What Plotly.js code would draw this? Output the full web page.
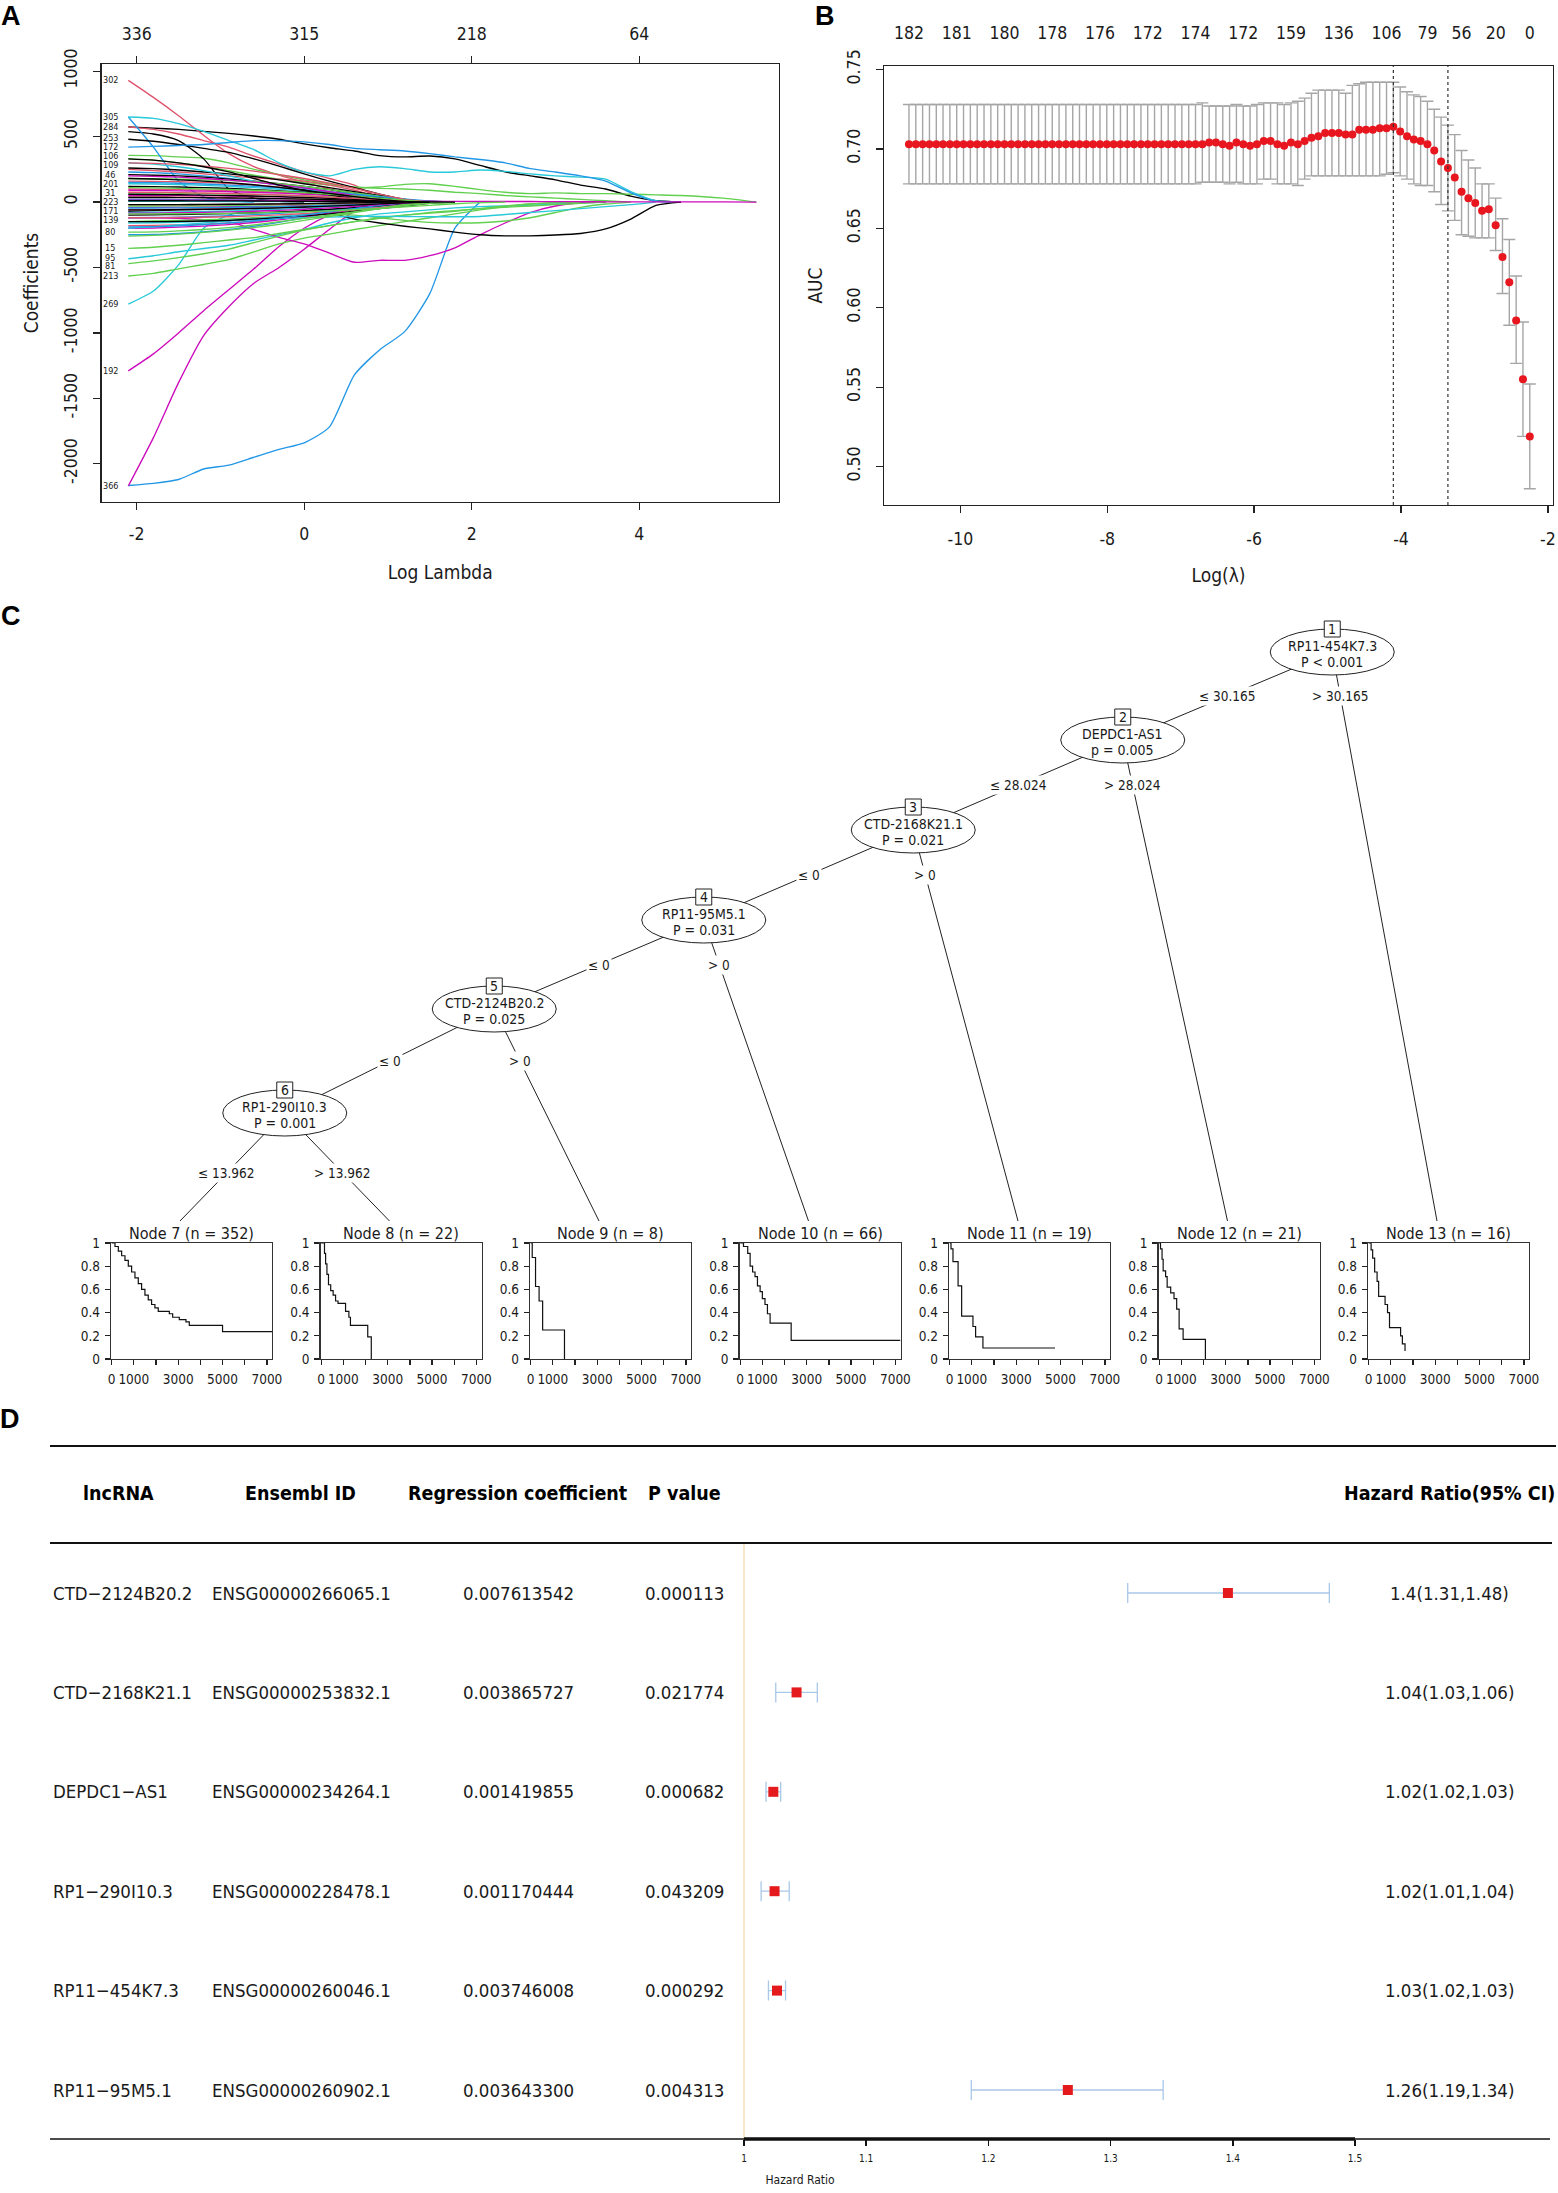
<!DOCTYPE html>
<html><head><meta charset="utf-8">
<script src="https://cdn.plot.ly/plotly-3.0.1.min.js"></script>
<style>html,body{margin:0;padding:0;background:#fff}#fig{width:1558px;height:2193px}</style>
</head><body><div id="fig"></div>
<script>
// ---------------- DATA ----------------
// Panel A: glmnet coefficient paths (log lambda grid)
const logLambdaGrid = [-2.1,-1.8,-1.5,-1.2,-0.9,-0.6,-0.3,0,0.3,0.6,0.9,1.2,1.5,1.8,2.1,2.4,2.7,3.0,3.3,3.6,3.9,4.2,4.5,5.0,5.4];
const pathsBlack = [
  [575,565,555,540,525,505,480,445,415,390,355,345,352,330,280,230,200,170,130,100,45,10,0],
  [538,520,470,330,100,30,5,0],
  [480,465,440,410,380,330,275,215,160,110,60,20,0],
  [-70,-65,-60,-55,-50,-45,-42,-40,-80,-130,-160,-185,-205,-230,-250,-258,-258,-252,-240,-205,-130,-25,0],
  [260,255,245,230,215,195,170,140,110,80,50,20,0],
  [210,205,200,190,175,160,140,120,95,70,40,15,0],
  [120,118,115,110,105,95,85,75,60,45,30,15,5,0],
  [-100,-98,-95,-92,-88,-82,-75,-66,-55,-42,-28,-12,0],
  [-150,-150,-148,-145,-140,-130,-120,-105,-90,-70,-50,-30,-10,0],
  [10,10,10,9,9,8,7,6,5,4,3,2,1,0],
  [330,320,300,270,230,180,130,90,55,25,0],
  [60,58,56,53,50,46,41,35,28,20,12,5,0],
  [-20,-20,-19,-18,-17,-16,-14,-12,-9,-6,-3,0],
  [180,176,170,160,148,132,112,90,66,42,20,5,0],
  [-60,-60,-58,-56,-53,-49,-44,-38,-31,-23,-14,-6,0],
  [35,35,34,33,31,29,26,22,18,13,8,3,0]
];
const pathsRed = [
  [930,800,660,510,370,270,205,150,100,50,10,0],
  [575,555,520,470,420,350,290,230,180,130,30,0],
  [250,240,230,215,200,185,175,160,130,90,40,10,0],
  [100,98,95,92,88,82,75,66,55,40,25,10,0],
  [160,158,155,150,142,130,115,95,70,45,20,0],
  [-60,-58,-55,-52,-48,-44,-38,-30,-20,-10,0],
  [-180,-178,-175,-170,-160,-145,-125,-100,-70,-40,-15,0],
  [40,40,38,36,33,30,26,22,17,12,6,0],
  [-120,-120,-118,-116,-112,-106,-98,-88,-75,-60,-42,-22,0],
  [300,296,288,275,258,236,210,180,145,105,60,20,0],
  [-20,-20,-19,-19,-18,-17,-15,-13,-10,-7,-4,-1,0],
  [75,74,72,69,65,60,54,47,38,28,17,7,0]
];
const pathsGreen = [
  [357,355,345,335,300,250,210,170,140,110,115,135,140,120,95,75,65,70,65,65,60,55,50,30,0],
  [330,320,300,275,240,205,175,150,130,115,105,100,90,75,65,50,40,30,20,10,0],
  [-565,-545,-510,-477,-440,-380,-320,-275,-245,-210,-180,-150,-120,-90,-60,-35,-15,-5,0],
  [-470,-450,-425,-395,-360,-310,-260,-214,-180,-150,-120,-100,-80,-65,-50,-40,-30,-20,-10,0],
  [-354,-345,-330,-310,-290,-272,-240,-210,-180,-150,-125,-100,-85,-70,-50,-30,-15,-5,0],
  [-150,-145,-140,-135,-130,-120,-110,-100,-95,-100,-120,-140,-155,-160,-158,-145,-120,-80,-40,-15,0],
  [180,178,175,170,165,155,140,120,95,70,45,20,0],
  [70,69,67,65,62,58,53,47,40,32,23,14,6,0],
  [-230,-228,-220,-210,-195,-175,-150,-125,-100,-75,-50,-28,-10,0],
  [-30,-30,-29,-28,-26,-24,-21,-18,-14,-10,-6,-2,0],
  [-90,-90,-89,-88,-86,-83,-79,-74,-67,-58,-48,-37,-25,-13,-4,0],
  [-260,-255,-245,-232,-215,-195,-170,-140,-110,-80,-50,-20,0],
  [110,108,105,101,96,90,82,72,60,46,30,14,0]
];
const pathsBlue = [
  [-2166,-2150,-2120,-2040,-2010,-1950,-1890,-1840,-1720,-1320,-1130,-990,-700,-200,0],
  [650,420,160,40,10,0],
  [420,425,432,440,455,470,470,460,440,410,400,390,370,345,325,300,255,230,200,160,70,5,0],
  [230,225,215,200,180,155,130,105,80,55,30,10,0],
  [-250,-248,-240,-228,-210,-185,-155,-120,-85,-55,-25,0],
  [20,20,19,18,17,15,13,11,8,5,2,0],
  [-120,-118,-115,-110,-104,-96,-86,-74,-60,-45,-30,-15,0],
  [150,148,144,138,130,120,108,94,78,60,42,24,8,0],
  [-190,-188,-182,-172,-160,-145,-125,-100,-75,-50,-25,-8,0],
  [-45,-45,-44,-43,-41,-38,-35,-31,-26,-20,-13,-6,0]
];
const pathsCyan = [
  [-780,-680,-480,-200,-100,-60,-40,-20,-10,0],
  [650,640,600,540,470,400,300,230,200,250,270,255,230,230,245,235,215,200,190,175,80,10,0],
  [-433,-410,-380,-355,-330,-290,-250,-210,-160,-120,-90,-75,-60,-45,-35,-30,-25,-15,-5,0],
  [140,138,134,128,120,110,98,84,68,50,32,15,0],
  [-80,-78,-76,-72,-68,-62,-55,-46,-36,-25,-14,-5,0],
  [300,290,270,240,200,160,130,110,80,50,25,5,0],
  [-160,-158,-154,-148,-140,-128,-112,-94,-74,-52,-30,-10,0],
  [-200,-190,-175,-160,-145,-135,-125,-120,-115,-110,-110,-110,-112,-112,-110,-95,-80,-65,-50,-35,-20,0],
  [5,5,5,5,4,4,4,3,3,2,1,0]
];
const pathsMagenta = [
  [-2170,-1800,-1380,-1020,-800,-620,-500,-360,-210,-70,-20,0],
  [-1290,-1160,-1000,-830,-670,-510,-340,-200,-100,-40,-10,0],
  [-120,-120,-125,-135,-150,-210,-270,-320,-390,-460,-445,-445,-410,-350,-250,-160,-80,-30,-5,0],
  [90,88,86,83,79,74,68,60,50,38,25,12,0],
  [-40,-40,-39,-38,-36,-34,-31,-27,-22,-16,-9,-3,0],
  [-200,-198,-192,-184,-172,-156,-136,-112,-85,-58,-32,-10,0],
  [50,50,49,48,46,43,40,36,31,25,18,10,3,0],
  [200,196,190,180,168,152,132,108,80,50,22,5,0],
  [15,15,15,14,14,13,12,11,10,9,8,7,6,5,5,4,4,3,3,2,2,1,1,1,0],
  [-85,-84,-82,-79,-75,-70,-63,-55,-45,-33,-20,-8,0]
];
const coefLabelText = ['302','305','284','253','172','106','109','46','201','31','223','171','139','80','15','95','81','213','269','192','366'];
const coefLabelY = [930,650,575,490,420,350,280,210,140,70,0,-70,-140,-230,-350,-425,-492,-565,-780,-1290,-2168];
const aBottomTickVals = [-2,0,2,4];
const aBottomTickText = ['-2','0','2','4'];
const aTopTickText = ['336','315','218','64'];
const aYTickVals = [-2000,-1500,-1000,-500,0,500,1000];
const aYTickText = ['-2000','-1500','-1000','-500','0','500','1000'];

// Panel B: cross-validated AUC
const aucLogLambda = [-10.700,-10.607,-10.514,-10.421,-10.328,-10.236,-10.143,-10.050,-9.957,-9.864,-9.771,-9.678,-9.585,-9.492,-9.399,-9.307,-9.214,-9.121,-9.028,-8.935,-8.842,-8.749,-8.656,-8.563,-8.470,-8.378,-8.285,-8.192,-8.099,-8.006,-7.913,-7.820,-7.727,-7.634,-7.541,-7.449,-7.356,-7.263,-7.170,-7.077,-6.984,-6.891,-6.798,-6.705,-6.612,-6.520,-6.427,-6.334,-6.241,-6.148,-6.055,-5.962,-5.869,-5.776,-5.683,-5.591,-5.498,-5.405,-5.312,-5.219,-5.126,-5.033,-4.940,-4.847,-4.754,-4.662,-4.569,-4.476,-4.383,-4.290,-4.197,-4.104,-4.011,-3.918,-3.825,-3.733,-3.640,-3.547,-3.454,-3.361,-3.268,-3.175,-3.082,-2.989,-2.896,-2.804,-2.711,-2.618,-2.525,-2.432,-2.339,-2.246];
const aucMean = [0.703,0.703,0.703,0.703,0.703,0.703,0.703,0.703,0.703,0.703,0.703,0.703,0.703,0.703,0.703,0.703,0.703,0.703,0.703,0.703,0.703,0.703,0.703,0.703,0.703,0.703,0.703,0.703,0.703,0.703,0.703,0.703,0.703,0.703,0.703,0.703,0.703,0.703,0.703,0.703,0.703,0.703,0.703,
  0.703,0.704,0.704,0.703,0.702,0.704,0.703,0.702,0.703,0.705,0.705,0.703,0.702,0.704,0.703,0.705,0.707,0.708,0.710,0.710,0.710,0.709,0.709,0.712,0.712,0.712,0.713,0.713,0.714,0.711,0.708,0.706,0.705,0.703,0.699,0.692,0.688,0.682,0.673,0.669,0.666,0.661,0.662,0.652,0.632,0.616,0.592,0.555,0.519];
const aucUpper = [0.728,0.728,0.728,0.728,0.728,0.728,0.728,0.728,0.728,0.728,0.728,0.728,0.728,0.728,0.728,0.728,0.728,0.728,0.728,0.728,0.728,0.728,0.728,0.728,0.728,0.728,0.728,0.728,0.728,0.728,0.728,0.728,0.728,0.728,0.728,0.728,0.728,0.728,0.728,0.728,0.728,0.728,0.728,
  0.729,0.727,0.727,0.727,0.727,0.728,0.727,0.727,0.728,0.729,0.729,0.729,0.728,0.729,0.730,0.732,0.735,0.737,0.737,0.737,0.737,0.735,0.740,0.741,0.742,0.742,0.742,0.742,0.742,0.739,0.736,0.734,0.733,0.730,0.725,0.720,0.715,0.709,0.699,0.693,0.688,0.678,0.678,0.669,0.656,0.643,0.620,0.591,0.552];
const aucLower = [0.678,0.678,0.678,0.678,0.678,0.678,0.678,0.678,0.678,0.678,0.678,0.678,0.678,0.678,0.678,0.678,0.678,0.678,0.678,0.678,0.678,0.678,0.678,0.678,0.678,0.678,0.678,0.678,0.678,0.678,0.678,0.678,0.678,0.678,0.678,0.678,0.678,0.678,0.678,0.678,0.678,0.678,0.678,
  0.679,0.679,0.679,0.679,0.678,0.679,0.678,0.678,0.678,0.681,0.681,0.678,0.678,0.678,0.677,0.681,0.683,0.683,0.683,0.683,0.683,0.683,0.683,0.683,0.683,0.683,0.683,0.684,0.685,0.683,0.681,0.678,0.677,0.677,0.673,0.665,0.661,0.655,0.646,0.645,0.644,0.644,0.644,0.636,0.609,0.589,0.565,0.519,0.486];
const bTopTickIndex = [0,7,14,21,28,35,42,49,56,63,70,76,81,86,91];
const bTopTickText = ['182','181','180','178','176','172','174','172','159','136','106','79','56','20','0'];
const lambdaMinIndex = 71, lambda1seIndex = 79;
const bXTickVals = [-10,-8,-6,-4,-2];
const bXTickText = ['-10','-8','-6','-4','-2'];
const bYTickVals = [0.50,0.55,0.60,0.65,0.70,0.75];
const bYTickText = ['0.50','0.55','0.60','0.65','0.70','0.75'];

// Panel C: survival tree
const treeInnerIds = [1,2,3,4,5,6];
const treeVariable = ['RP11-454K7.3','DEPDC1-AS1','CTD-2168K21.1','RP11-95M5.1','CTD-2124B20.2','RP1-290I10.3'];
const treePText = ['P < 0.001','p = 0.005','P = 0.021','P = 0.031','P = 0.025','P = 0.001'];
const treeSplit = ['30.165','28.024','0','0','0','13.962'];
const treeLeftKid = [2,3,4,5,6,7];
const treeRightKid = [13,12,11,10,9,8];
const leafIds = [7,8,9,10,11,12,13];
const leafN = [352,22,8,66,19,21,16];
const kmNode7Time = [0,150,300,450,600,750,900,1050,1200,1350,1500,1650,1800,1950,2100,2600,2750,3050,3350,3500,5000,7230];
const kmNode7Surv = [1,0.97,0.93,0.89,0.85,0.80,0.75,0.70,0.65,0.60,0.55,0.51,0.47,0.44,0.41,0.39,0.36,0.34,0.32,0.29,0.236,0.236];
const kmNode8Time = [0,150,200,260,330,430,540,650,760,1100,1250,1320,2100,2260];
const kmNode8Surv = [1,0.91,0.82,0.73,0.64,0.59,0.55,0.50,0.48,0.41,0.36,0.29,0.19,0];
const kmNode9Time = [0,70,220,380,540,1525];
const kmNode9Surv = [1,0.875,0.625,0.5,0.25,0];
const kmNode10Time = [0,150,340,450,560,670,780,900,1000,1120,1230,1350,2300,7230];
const kmNode10Surv = [1,0.97,0.91,0.80,0.75,0.71,0.63,0.58,0.52,0.47,0.39,0.31,0.16,0.16];
const kmNode11Time = [0,60,150,380,540,1050,1170,1500,4750];
const kmNode11Surv = [1,0.95,0.84,0.63,0.37,0.28,0.19,0.095,0.095];
const kmNode12Time = [0,60,130,180,290,360,520,670,790,900,1080,2085];
const kmNode12Surv = [1,0.95,0.86,0.76,0.71,0.62,0.57,0.52,0.43,0.26,0.17,0];
const kmNode13Time = [0,110,180,270,380,450,740,850,940,1390,1440,1520,1640];
const kmNode13Surv = [1,0.94,0.87,0.75,0.67,0.54,0.47,0.40,0.27,0.27,0.20,0.13,0.07];
const kmTickVals = [0,1000,2000,3000,4000,5000,6000,7000];
const kmTickText = ['0','1000','','3000','','5000','','7000'];
const kmYTickVals = [0,0.2,0.4,0.6,0.8,1];
const kmYTickText = ['0','0.2','0.4','0.6','0.8','1'];

// Panel D: multivariate Cox table / forest plot
const lncRNA = ['CTD\u22122124B20.2','CTD\u22122168K21.1','DEPDC1\u2212AS1','RP1\u2212290I10.3','RP11\u2212454K7.3','RP11\u221295M5.1'];
const ensemblId = ['ENSG00000266065.1','ENSG00000253832.1','ENSG00000234264.1','ENSG00000228478.1','ENSG00000260046.1','ENSG00000260902.1'];
const regCoef = ['0.007613542','0.003865727','0.001419855','0.001170444','0.003746008','0.003643300'];
const pValue = ['0.000113','0.021774','0.000682','0.043209','0.000292','0.004313'];
const hrEst = [1.396,1.043,1.024,1.025,1.027,1.265];
const hrLow = [1.314,1.026,1.018,1.014,1.020,1.186];
const hrHigh = [1.479,1.060,1.030,1.037,1.034,1.343];
const hrLabel = ['1.4(1.31,1.48)','1.04(1.03,1.06)','1.02(1.02,1.03)','1.02(1.01,1.04)','1.03(1.02,1.03)','1.26(1.19,1.34)'];
const forestTickVals = [1,1.1,1.2,1.3,1.4,1.5];
const forestTickText = ['1','1.1','1.2','1.3','1.4','1.5'];
const tableHeaders = ['lncRNA','Ensembl ID','Regression coefficient','P value','Hazard Ratio(95% CI)'];

// ---------------- STYLE / LAYOUT ----------------
const Wd = 1558, Ht = 2193;
const PX = v => v / Wd;
const PY = v => 1 - v / Ht;
const FONT = "'Liberation Sans Narrow','Arial Narrow','Nimbus Sans Narrow','DejaVu Sans Condensed','Liberation Sans',Arial,sans-serif";
const FONTB = "'Liberation Sans',Arial,sans-serif";
const INK = '#1a1a1a';
const COLS = {black:'#000000', red:'#DF536B', green:'#61D04F', blue:'#2297E6', cyan:'#28C9D8', magenta:'#CD0BBC'};
const SZ = {tick:17.5, title:19, coefLab:9, tree:14, treeEdge:13.5, kmTitle:16, kmTick:13.5, header:19.5, row:18.5, forestTick:10, forestTitle:12};

const traces = [], shapes = [], annotations = [];
const layout = {width:Wd, height:Ht, margin:{l:0,r:0,t:0,b:0}, paper_bgcolor:'#ffffff', plot_bgcolor:'rgba(0,0,0,0)',
  showlegend:false, hovermode:false, font:{family:FONT, color:INK}, shapes, annotations};

function rAxis(extra){
  return Object.assign({showgrid:false, zeroline:false, showline:true, mirror:true, linecolor:'#222', linewidth:1.3,
    ticks:'outside', ticklen:7, tickwidth:1.3, tickcolor:'#222', tickfont:{family:FONT,size:SZ.tick,color:INK}, fixedrange:true}, extra);
}
function letter(t, x, y){
  annotations.push({text:'<b>'+t+'</b>', x:PX(x), y:PY(y), xref:'paper', yref:'paper', showarrow:false,
    font:{family:FONTB,size:27,color:'#000'}, xanchor:'center', yanchor:'middle'});
}
const titleFont = {family:FONT, size:SZ.title, color:INK};

// ---- Panel A ----
const A = {l:101.5, r:779, t:64, b:502};
layout.xaxis = rAxis({domain:[PX(A.l),PX(A.r)], range:[-2.42,5.67], anchor:'y', tickvals:aBottomTickVals, ticktext:aBottomTickText,
  ticklabelstandoff:9, title:{text:'Log Lambda', font:titleFont, standoff:22}});
layout.xaxis2 = rAxis({overlaying:'x', side:'top', anchor:'y', range:[-2.42,5.67], showline:false, mirror:false,
  tickvals:aBottomTickVals, ticktext:aTopTickText, ticklabelstandoff:9});
layout.yaxis = rAxis({domain:[PY(A.b),PY(A.t)], range:[-2292,1055], anchor:'x', tickvals:aYTickVals, ticktext:aYTickText,
  tickangle:-90, ticklabelstandoff:9, title:{text:'Coefficients', font:titleFont, standoff:17}});
const groups = [[pathsBlack,COLS.black],[pathsRed,COLS.red],[pathsGreen,COLS.green],[pathsBlue,COLS.blue],[pathsCyan,COLS.cyan],[pathsMagenta,COLS.magenta]];
const maxLen = Math.max(...groups.map(g => g[0].length));
for (let i = 0; i < maxLen; i++) {
  groups.forEach(([paths,col]) => {
    if (i < paths.length) {
      const ys = paths[i];
      traces.push({type:'scatter', mode:'lines', x:logLambdaGrid.slice(0, ys.length), y:ys, xaxis:'x', yaxis:'y',
        line:{color:col, width:1.35, shape:'spline', smoothing:0.6}, hoverinfo:'skip'});
    }
  });
}
traces.push({type:'scatter', mode:'markers', x:aBottomTickVals, y:aBottomTickVals.map(() => null), xaxis:'x2', yaxis:'y',
  marker:{opacity:0}, hoverinfo:'skip'});
coefLabelText.forEach((t, i) => {
  annotations.push({text:t, x:-2.318, y:coefLabelY[i], xref:'x', yref:'y', showarrow:false,
    font:{family:FONT,size:SZ.coefLab,color:INK}, xanchor:'center', yanchor:'middle'});
});
letter('A', 11, 16);

// ---- Panel B ----
const B = {l:884, r:1553, t:66, b:505};
layout.xaxis3 = rAxis({domain:[PX(B.l),PX(B.r)], range:[-11.04,-1.93], anchor:'y3', tickvals:bXTickVals, ticktext:bXTickText,
  ticklabelstandoff:11, title:{text:'Log(\u03bb)', font:titleFont, standoff:20}});
layout.xaxis4 = rAxis({overlaying:'x3', side:'top', anchor:'y3', range:[-11.04,-1.93], showline:false, mirror:false, ticks:'',
  tickvals:bTopTickIndex.map(i => aucLogLambda[i]), ticktext:bTopTickText, ticklabelstandoff:23});
layout.yaxis3 = rAxis({domain:[PY(B.b),PY(B.t)], range:[0.4758,0.7522], anchor:'x3', tickvals:bYTickVals, ticktext:bYTickText,
  tickangle:-90, ticklabelstandoff:9, title:{text:'AUC', font:titleFont, standoff:16}});
traces.push({type:'scatter', mode:'markers', x:aucLogLambda, y:aucMean, xaxis:'x3', yaxis:'y3',
  marker:{color:'#E8161E', size:8}, hoverinfo:'skip',
  error_y:{type:'data', symmetric:false, array:aucUpper.map((u,i) => u - aucMean[i]), arrayminus:aucLower.map((l,i) => aucMean[i] - l),
    color:'#A6A6A6', thickness:1.4, width:6}});
traces.push({type:'scatter', mode:'markers', x:bTopTickIndex.map(i => aucLogLambda[i]), y:bTopTickIndex.map(() => null),
  xaxis:'x4', yaxis:'y3', marker:{opacity:0}, hoverinfo:'skip'});
[lambdaMinIndex, lambda1seIndex].forEach(idx => {
  shapes.push({type:'line', xref:'x3', yref:'y3 domain', x0:aucLogLambda[idx], x1:aucLogLambda[idx], y0:0, y1:1,
    line:{color:'#333', width:1.2, dash:'dot'}});
});
letter('B', 825, 16);

// ---- Panel C: tree ----
layout.xaxis5 = {domain:[0,1], range:[0,Wd], anchor:'y5', visible:false, fixedrange:true};
layout.yaxis5 = {domain:[0,1], range:[Ht,0], anchor:'x5', visible:false, fixedrange:true};
const treeX0 = 180, treeDX = 209.5;
const levelY = [652,740,830,920,1009,1113];
const leafLevelY = 1233, leafTopY = 1221;
const isLeaf = id => leafIds.includes(id);
const innerIdx = id => treeInnerIds.indexOf(id);
function leavesUnder(id){ return isLeaf(id) ? [id] : leavesUnder(treeLeftKid[innerIdx(id)]).concat(leavesUnder(treeRightKid[innerIdx(id)])); }
function posOf(id){
  if (isLeaf(id)) return leafIds.indexOf(id) + 1;
  const first = leafIds.indexOf(leavesUnder(id)[0]) + 1;
  return first + leavesUnder(treeLeftKid[innerIdx(id)]).length - 0.5;
}
const depthOf = {}; (function walk(id, d){ depthOf[id] = d; if (!isLeaf(id)) { walk(treeLeftKid[innerIdx(id)], d+1); walk(treeRightKid[innerIdx(id)], d+1); } })(1, 0);
const nodeX = id => treeX0 + (posOf(id) - 1) * treeDX;
const nodeY = id => isLeaf(id) ? leafTopY : levelY[depthOf[id]];
treeInnerIds.forEach((id, k) => {
  const px = nodeX(id), py = nodeY(id), d = depthOf[id];
  const labY = (levelY[d] + (d + 1 < levelY.length ? levelY[d+1] : leafLevelY)) / 2;
  [[treeLeftKid[k], '\u2264 '], [treeRightKid[k], '> ']].forEach(([kid, sym]) => {
    const kx = nodeX(kid), ky = nodeY(kid);
    traces.push({type:'scatter', mode:'lines', x:[px,kx], y:[py,ky], xaxis:'x5', yaxis:'y5',
      line:{color:'#222', width:1}, hoverinfo:'skip'});
    const lx = px + (kx - px) * (labY - py) / (ky - py);
    annotations.push({text:sym + treeSplit[k], x:lx, y:labY, xref:'x5', yref:'y5', showarrow:false, bgcolor:'#ffffff',
      borderpad:1, font:{family:FONT,size:SZ.treeEdge,color:INK}, xanchor:'center', yanchor:'middle'});
  });
});
treeInnerIds.forEach((id, k) => {
  const cx = nodeX(id), cy = nodeY(id);
  shapes.push({type:'circle', xref:'x5', yref:'y5', x0:cx-62, x1:cx+62, y0:cy-23, y1:cy+23, fillcolor:'#ffffff', line:{color:'#222', width:1}, layer:'above'});
  shapes.push({type:'rect', xref:'x5', yref:'y5', x0:cx-8, x1:cx+8, y0:cy-31, y1:cy-15, fillcolor:'#ffffff', line:{color:'#222', width:1}, layer:'above'});
  annotations.push({text:String(id), x:cx, y:cy-23, xref:'x5', yref:'y5', showarrow:false, font:{family:FONT,size:SZ.tree,color:INK}, xanchor:'center', yanchor:'middle'});
  annotations.push({text:treeVariable[k], x:cx, y:cy-6, xref:'x5', yref:'y5', showarrow:false, font:{family:FONT,size:SZ.tree,color:INK}, xanchor:'center', yanchor:'middle'});
  annotations.push({text:treePText[k], x:cx, y:cy+10, xref:'x5', yref:'y5', showarrow:false, font:{family:FONT,size:SZ.tree,color:INK}, xanchor:'center', yanchor:'middle'});
});
const kmSets = [[kmNode7Time,kmNode7Surv],[kmNode8Time,kmNode8Surv],[kmNode9Time,kmNode9Surv],[kmNode10Time,kmNode10Surv],
  [kmNode11Time,kmNode11Surv],[kmNode12Time,kmNode12Surv],[kmNode13Time,kmNode13Surv]];
const kmTop = 1243, kmBottom = 1359;
leafIds.forEach((id, k) => {
  const n = 6 + k, lx = nodeX(id);
  const fl = lx - 69, fr = lx + 92;
  layout['xaxis' + n] = rAxis({domain:[PX(fl),PX(fr)], range:[-30,7230], anchor:'y' + n, tickvals:kmTickVals, ticktext:kmTickText,
    ticklen:5, linecolor:'#333', linewidth:1.2, tickfont:{family:FONT,size:SZ.kmTick,color:INK}, ticklabelstandoff:3});
  layout['yaxis' + n] = rAxis({domain:[PY(kmBottom),PY(kmTop)], range:[0,1], anchor:'x' + n, tickvals:kmYTickVals, ticktext:kmYTickText,
    ticklen:5, linecolor:'#333', linewidth:1.2, tickfont:{family:FONT,size:SZ.kmTick,color:INK}, ticklabelstandoff:2});
  traces.push({type:'scatter', mode:'lines', x:kmSets[k][0], y:kmSets[k][1], xaxis:'x' + n, yaxis:'y' + n,
    line:{color:'#111', width:1.2, shape:'hv'}, hoverinfo:'skip'});
  annotations.push({text:'Node ' + id + ' (n = ' + leafN[k] + ')', x:(fl + fr) / 2, y:leafLevelY, xref:'x5', yref:'y5', showarrow:false,
    font:{family:FONT,size:SZ.kmTitle,color:INK}, xanchor:'center', yanchor:'middle'});
});
letter('C', 11, 616);

// ---- Panel D: table + forest plot ----
const tableL = 50, tableR = 1552, topLineY = 1446, headLineY = 1543, axisLineY = 2139, headerY = 1493;
const forestDomain = [50, 1550];
const xAt = px => 1 + (px - 744) / 1222;     // px -> HR, only used to set the axis range
layout.xaxis13 = {domain:[PX(forestDomain[0]),PX(forestDomain[1])], range:[xAt(forestDomain[0]), xAt(forestDomain[1])], anchor:'y13',
  showgrid:false, zeroline:false, showline:false, ticks:'outside', ticklen:6, tickwidth:1.5, tickcolor:'#111',
  tickvals:forestTickVals, ticktext:forestTickText, tickfont:{family:FONT,size:SZ.forestTick,color:INK}, ticklabelstandoff:4, fixedrange:true,
  title:{text:'Hazard Ratio', font:{family:FONT,size:SZ.forestTitle,color:INK}, standoff:12}};
layout.yaxis13 = {domain:[PY(axisLineY),PY(headLineY)], range:[5.493,-0.503], anchor:'x13', visible:false, fixedrange:true};
shapes.push({type:'line', xref:'x13', yref:'y13 domain', x0:1, x1:1, y0:0, y1:1, line:{color:'#F2D9A6', width:1.2}, layer:'below'});
const rows = lncRNA.map((_, i) => i);
traces.push({type:'scatter', mode:'markers', x:hrEst, y:rows, xaxis:'x13', yaxis:'y13', hoverinfo:'skip',
  marker:{symbol:'square', size:10, color:'#E41A1C'},
  error_x:{type:'data', symmetric:false, array:hrHigh.map((h,i) => h - hrEst[i]), arrayminus:hrLow.map((l,i) => hrEst[i] - l),
    color:'#A9C8E8', thickness:1.3, width:10}});
shapes.push({type:'line', xref:'paper', yref:'paper', x0:PX(tableL), x1:PX(1556), y0:PY(topLineY), y1:PY(topLineY), line:{color:'#111', width:2}});
shapes.push({type:'line', xref:'paper', yref:'paper', x0:PX(tableL), x1:PX(tableR), y0:PY(headLineY), y1:PY(headLineY), line:{color:'#111', width:2}});
shapes.push({type:'line', xref:'paper', yref:'paper', x0:PX(tableL), x1:PX(1550), y0:PY(axisLineY), y1:PY(axisLineY), line:{color:'#111', width:1.5}});
shapes.push({type:'line', xref:'x13', yref:'paper', x0:forestTickVals[0], x1:forestTickVals[forestTickVals.length-1], y0:PY(axisLineY), y1:PY(axisLineY), line:{color:'#111', width:3.5}});
const headerX = [119, 300, 517, 684, 1449];
tableHeaders.forEach((t, i) => {
  annotations.push({text:'<b>' + t + '</b>', x:PX(headerX[i]), y:PY(headerY), xref:'paper', yref:'paper', showarrow:false,
    font:{family:FONT,size:SZ.header,color:'#000'}, xanchor:'center', yanchor:'middle'});
});
rows.forEach(i => {
  const cell = (text, x, anchor) => annotations.push({text, x:PX(x), y:i, xref:'paper', yref:'y13', showarrow:false,
    font:{family:FONT,size:SZ.row,color:INK}, xanchor:anchor, yanchor:'middle'});
  cell(lncRNA[i], 51, 'left');
  cell(ensemblId[i], 210, 'left');
  cell(regCoef[i], 518, 'center');
  cell(pValue[i], 684, 'center');
  cell(hrLabel[i], 1449, 'center');
});
letter('D', 10, 1419);

Plotly.newPlot('fig', traces, layout, {staticPlot:true, displayModeBar:false});
</script></body></html>
